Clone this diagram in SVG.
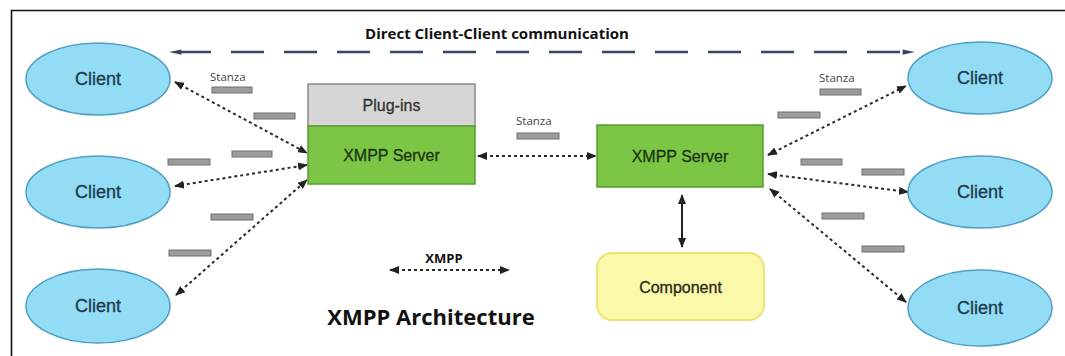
<svg xmlns="http://www.w3.org/2000/svg" width="1065" height="356" viewBox="0 0 1065 356">
  <defs>
    <marker id="ah" viewBox="0 0 10 8" refX="9" refY="4" markerWidth="10" markerHeight="8" markerUnits="userSpaceOnUse" orient="auto-start-reverse">
      <path d="M0,0 L10,4 L0,8 z" fill="#222"/>
    </marker>
    <marker id="ahb" viewBox="0 0 14 8" refX="13" refY="4" markerWidth="14" markerHeight="7" markerUnits="userSpaceOnUse" orient="auto-start-reverse">
      <path d="M0,1 L14,4 L0,7 z" fill="#34475f"/>
    </marker>
    <style>
      .client ellipse { fill: #93dcf5; stroke: #4f9fc2; stroke-width: 1.5; }
      .client text { font-family: "Liberation Sans", Arial, sans-serif; font-size: 18px; fill: #1d3a4c; text-anchor: middle; dominant-baseline: central; stroke: #1d3a4c; stroke-width: 0.3; }
      .green { fill: #7cc646; stroke: #5b9a33; stroke-width: 1.5; }
      .gray { fill: #d6d6d6; stroke: #8a8a8a; stroke-width: 1.5; }
      .lbl { font-family: "Liberation Sans", Arial, sans-serif; font-size: 16px; text-anchor: middle; dominant-baseline: central; stroke-width: 0.3; }
      .dot { stroke: #2a2a2a; stroke-width: 2; stroke-dasharray: 3 3; fill: none; marker-start: url(#ah); marker-end: url(#ah); }
      .bar { fill: #9c9c9c; stroke: #6f6f6f; stroke-width: 1; }
      .stz { font-family: "Open Sans", "Liberation Sans", sans-serif; font-size: 11.5px; fill: #444; }
      .bold { font-family: "Open Sans", "Liberation Sans", sans-serif; font-weight: bold; fill: #111; text-anchor: middle; }
    </style>
  </defs>
  <rect width="1065" height="356" fill="#ffffff"/>
  <path d="M11.5,356 V10.5 H1065" fill="none" stroke="#111" stroke-width="1.6"/>

  <text class="bold" x="497" y="39" font-size="15">Direct Client-Client communication</text>

  <g id="connectors">
    <line x1="170" y1="52" x2="914" y2="52" stroke="#34475f" stroke-width="2.5" stroke-dasharray="33 20" stroke-dashoffset="-8" marker-start="url(#ahb)" marker-end="url(#ahb)"/>
    <line class="dot" x1="175" y1="82" x2="307" y2="153"/>
    <line class="dot" x1="175" y1="186" x2="307" y2="165"/>
    <line class="dot" x1="176" y1="295" x2="307" y2="180"/>
    <line class="dot" x1="478" y1="156" x2="596" y2="156"/>
    <line class="dot" x1="768" y1="155" x2="906" y2="86"/>
    <line class="dot" x1="768" y1="174" x2="908" y2="192"/>
    <line class="dot" x1="770" y1="189" x2="906" y2="302"/>
    <line x1="682" y1="195" x2="682" y2="247" stroke="#222" stroke-width="2" marker-start="url(#ah)" marker-end="url(#ah)"/>
    <line class="dot" x1="390" y1="270" x2="509" y2="270"/>
  </g>

  <g id="stanzas">
    <text class="stz" x="210" y="81">Stanza</text>
    <rect class="bar" x="212" y="87" width="40" height="6"/>
    <rect class="bar" x="254" y="113" width="41" height="6"/>
    <rect class="bar" x="232" y="151" width="40" height="6"/>
    <rect class="bar" x="168" y="159" width="42" height="6"/>
    <rect class="bar" x="211" y="214" width="42" height="6"/>
    <rect class="bar" x="169" y="250" width="42" height="6"/>
    <text class="stz" x="516" y="125">Stanza</text>
    <rect class="bar" x="517" y="133" width="42" height="6"/>
    <text class="stz" x="819" y="82">Stanza</text>
    <rect class="bar" x="820" y="89" width="41" height="6"/>
    <rect class="bar" x="778" y="112" width="42" height="6"/>
    <rect class="bar" x="801" y="159" width="41" height="6"/>
    <rect class="bar" x="862" y="169" width="42" height="6"/>
    <rect class="bar" x="822" y="213" width="42" height="6"/>
    <rect class="bar" x="862" y="246" width="42" height="6"/>
  </g>

  <g id="client-l1" class="client"><ellipse cx="98" cy="79" rx="72" ry="36"/><text x="98" y="79">Client</text></g>
  <g id="client-l2" class="client"><ellipse cx="98" cy="192" rx="72" ry="36"/><text x="98" y="192">Client</text></g>
  <g id="client-l3" class="client"><ellipse cx="98" cy="306" rx="72" ry="37"/><text x="98" y="306">Client</text></g>
  <g id="client-r1" class="client"><ellipse cx="980" cy="78" rx="72" ry="36"/><text x="980" y="78">Client</text></g>
  <g id="client-r2" class="client"><ellipse cx="980" cy="192" rx="72" ry="36"/><text x="980" y="192">Client</text></g>
  <g id="client-r3" class="client"><ellipse cx="980" cy="308" rx="72" ry="38"/><text x="980" y="308">Client</text></g>

  <g id="server-left">
    <rect class="gray" x="308" y="84" width="167" height="42"/>
    <text class="lbl" x="391.5" y="105" fill="#333" stroke="#333">Plug-ins</text>
    <rect class="green" x="308" y="126" width="167" height="58"/>
    <text class="lbl" x="391.5" y="155" fill="#1c3510" stroke="#1c3510">XMPP Server</text>
  </g>

  <g id="server-right">
    <rect class="green" x="597" y="125" width="166" height="62"/>
    <text class="lbl" x="680" y="156" fill="#1c3510" stroke="#1c3510">XMPP Server</text>
  </g>

  <g id="component">
    <rect x="597" y="253" width="167" height="67" rx="15" fill="#fbf8a9" stroke="#ece276" stroke-width="2"/>
    <text class="lbl" x="680.5" y="287" fill="#2a2a1a" stroke="#2a2a1a" font-size="18">Component</text>
  </g>

  <g id="legend">
    <text class="bold" x="444" y="263" font-size="13">XMPP</text>
    <text class="bold" x="431" y="325" font-size="22">XMPP Architecture</text>
  </g>
</svg>
